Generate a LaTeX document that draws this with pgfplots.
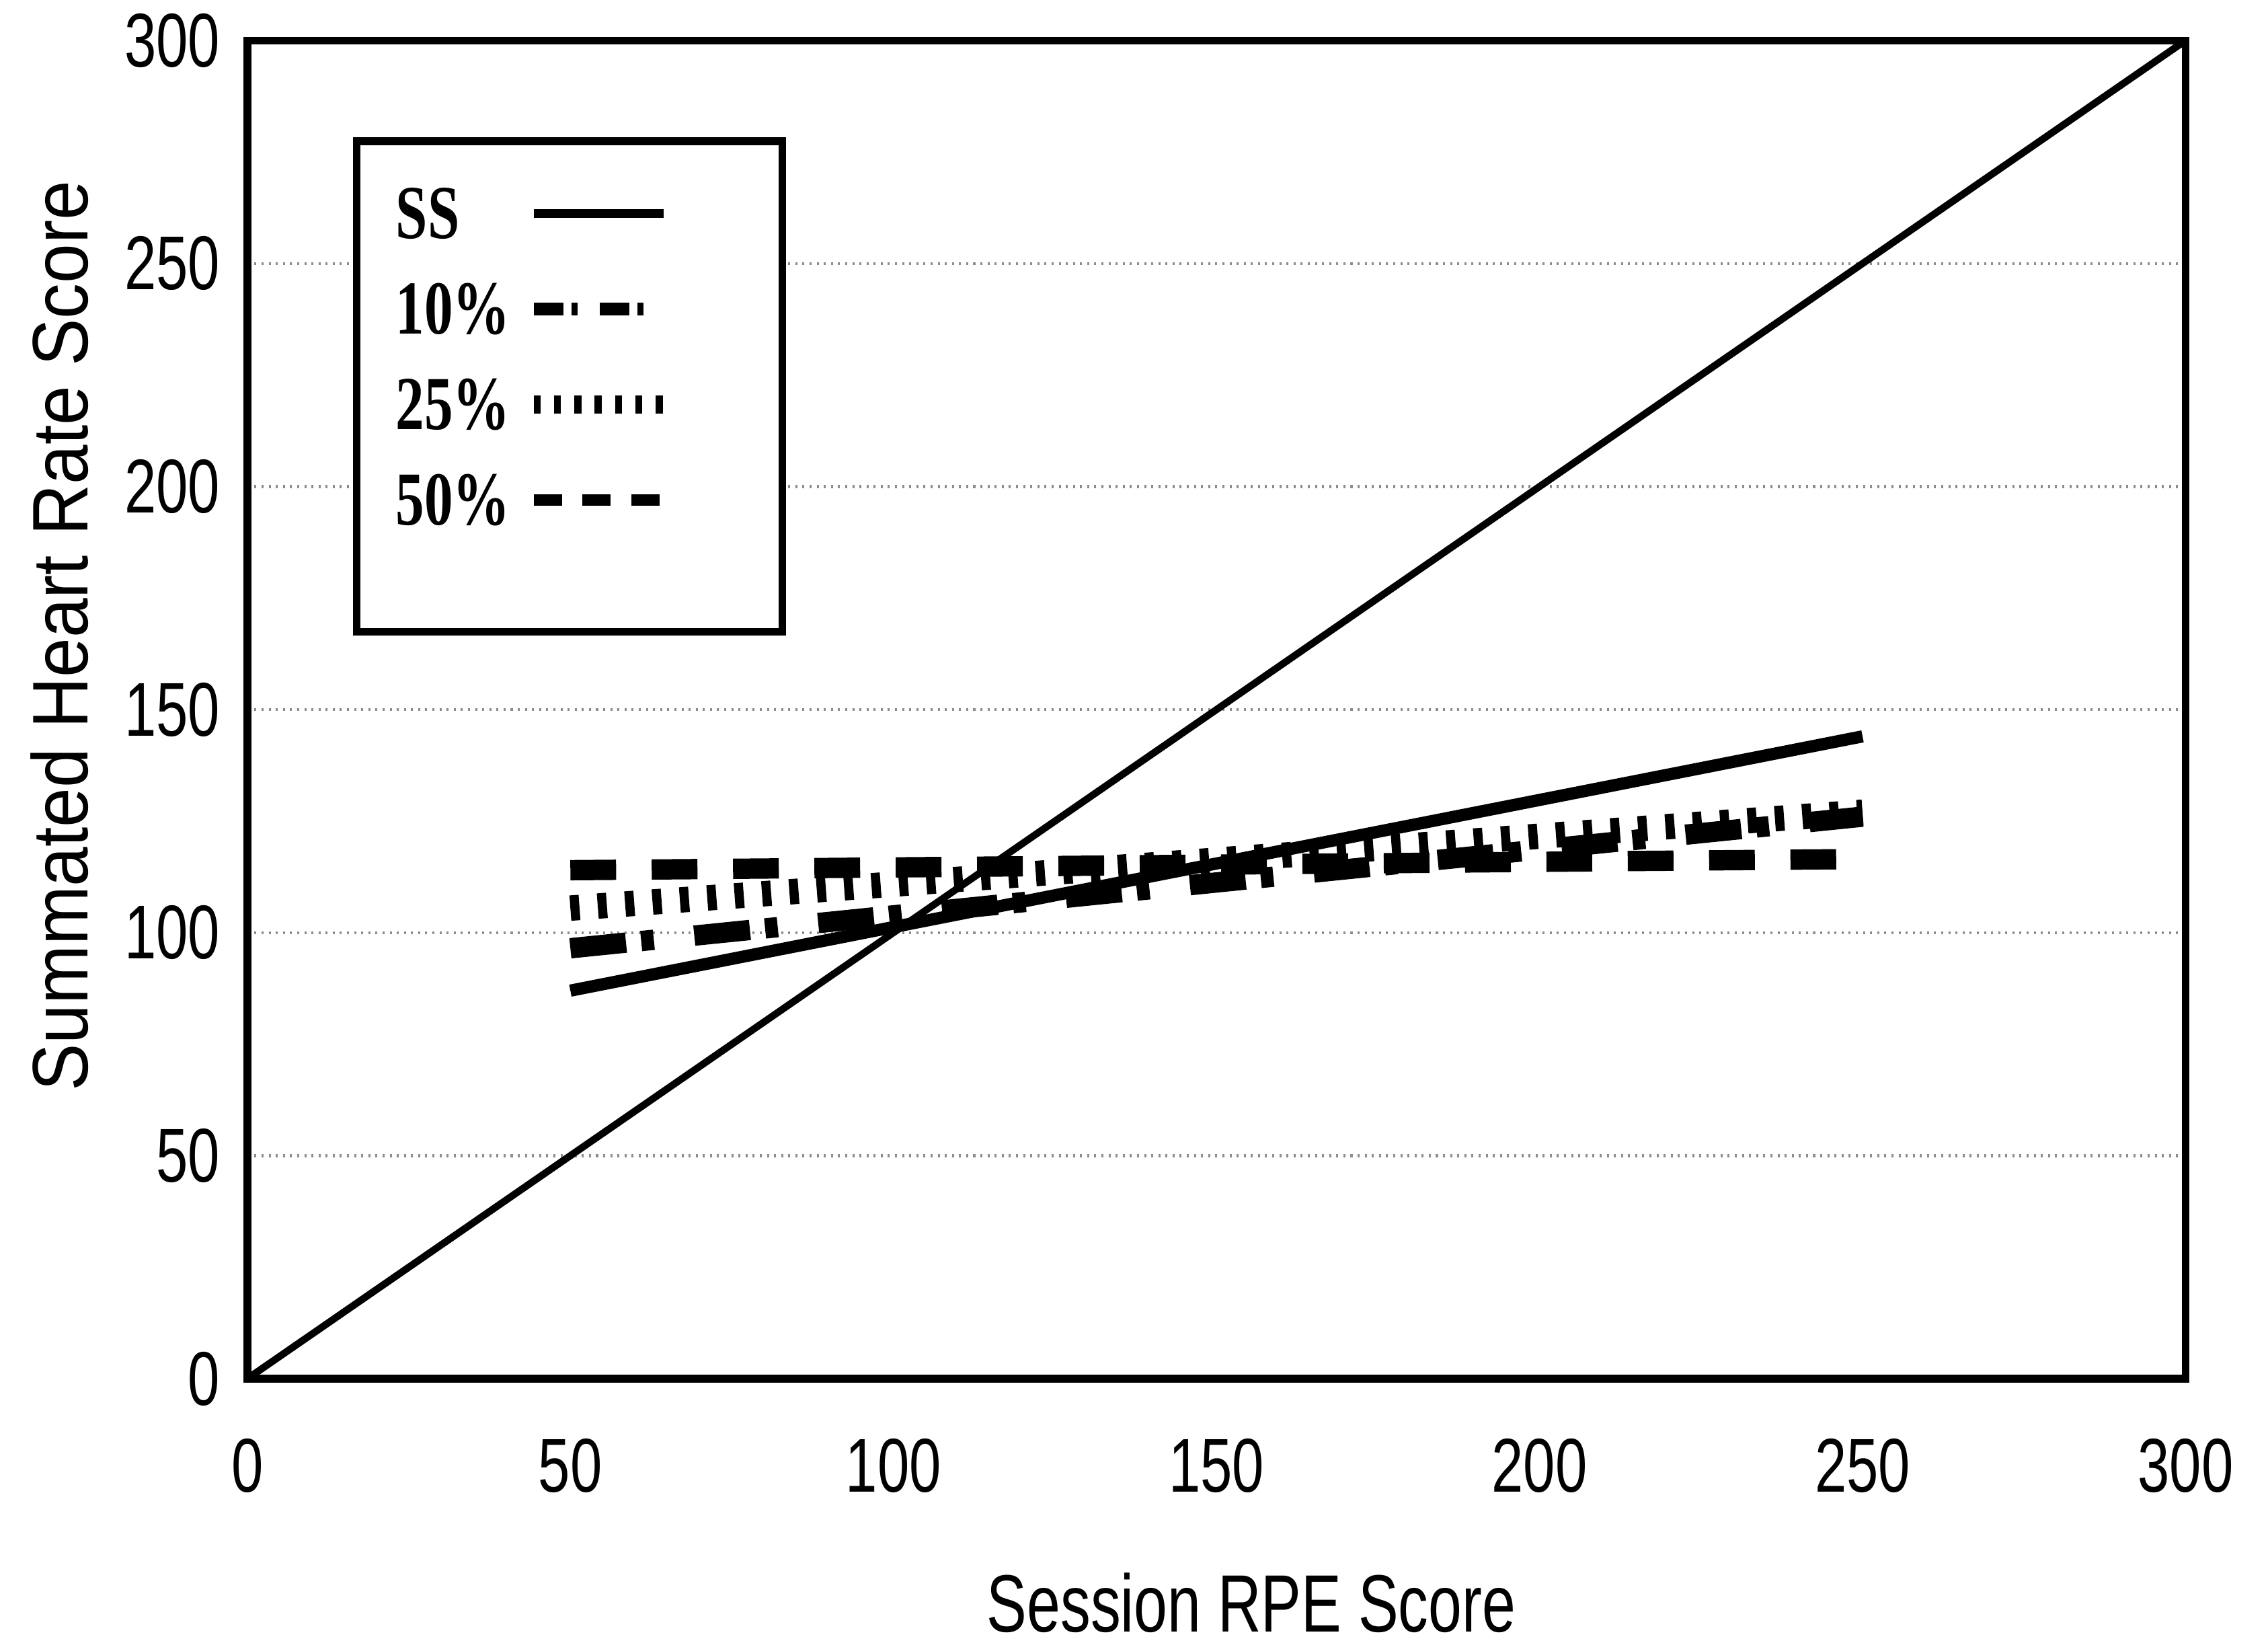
\documentclass[border=0pt]{standalone}
\usepackage{pgfplots}
\pgfplotsset{compat=1.18}
\usepackage{fontspec}
\setmainfont{Liberation Sans}
\newfontfamily\tickfont[FakeStretch=0.75]{Liberation Sans}
\newfontfamily\xlabfont[FakeStretch=0.74]{Liberation Sans}
\newfontfamily\ylabfont[FakeStretch=0.9]{Liberation Sans}
\newfontfamily\legfont[FakeStretch=0.75]{Liberation Serif}

\begin{document}
\begin{tikzpicture}
\useasboundingbox (-1.71cm,-1.84cm) rectangle (13.97cm,9.53cm);
\begin{axis}[
    at={(0,0)}, anchor=south west,
    scale only axis,
    width=13.4cm, height=9.25cm,
    xmin=0, xmax=300, ymin=0, ymax=300,
    xtick={0,50,...,300},
    ytick={0,50,...,300},
    major tick length=0pt,
    ymajorgrids,
    grid style={densely dotted, black!45, line width=0.6pt},
    axis line style={line width=1.5pt},
    /pgf/number format/assume math mode=true,
    ticklabel style={font=\tickfont\fontsize{15}{15}\selectfont},
    xticklabel style={yshift=-0.29cm},
    yticklabel style={xshift=-0.065cm},
    xlabel={Session RPE Score},
    ylabel={Summated Heart Rate Score},
    xlabel style={font=\xlabfont\fontsize{16}{16}\selectfont,
        at={(axis description cs:0.518,-0.1676)}, anchor=center},
    ylabel style={font=\ylabfont\fontsize{15.5}{15.5}\selectfont,
        at={(axis description cs:-0.097,0.555)}, anchor=center},
    legend plot pos=right,
    legend cell align=left,
    legend style={
        at={(axis description cs:0.0545,0.9276)}, anchor=north west,
        draw=black, line width=1.5pt,
        inner xsep=0.27cm, inner ysep=0.22cm,
        row sep=0.11cm, column sep=0.1cm,
        font=\legfont\bfseries\fontsize{15}{15}\selectfont,
        nodes={text height=0.35cm, text depth=0cm, inner xsep=0pt,
            inner ysep=0.10cm, anchor=base west},
    },
]

% line of identity
\addplot[black, line width=1.4pt, forget plot] coordinates {(0,0) (300,300)};

% SS
\addplot[black, line width=2.4pt,
    legend image code/.code={
        \draw[line width=1.6pt, solid] (0cm,0.17cm) -- (0.9cm,0.17cm);
        \path[draw=none] (0.9cm,0.17cm) -- (1.45cm,0.17cm);}]
    coordinates {(50,87) (250,144)};
\addlegendentry{SS}

% 10%
\addplot[black, line width=4pt, dash pattern=on 11pt off 3pt on 2.5pt off 8pt,
    legend image code/.code={
        \draw[line width=2.4pt, dash pattern=on 5.9pt off 1.5pt on 1.2pt off 4.4pt] (0cm,0.17cm) -- (0.9cm,0.17cm);
        \path[draw=none] (0.9cm,0.17cm) -- (1.45cm,0.17cm);}]
    coordinates {(50,96.5) (250,126)};
\addlegendentry{10\%}

% 25%
\addplot[black, line width=5pt, dash pattern=on 1.8pt off 3.6pt,
    legend image code/.code={
        \draw[line width=3.5pt, dash pattern=on 1.4pt off 2.6pt] (0cm,0.17cm) -- (0.9cm,0.17cm);
        \path[draw=none] (0.9cm,0.17cm) -- (1.45cm,0.17cm);}]
    coordinates {(50,105.5) (250,127)};
\addlegendentry{25\%}

% 50%
\addplot[black, line width=4pt, dash pattern=on 9pt off 7pt,
    legend image code/.code={
        \draw[line width=2.2pt, dash pattern=on 5.6pt off 4pt] (0cm,0.17cm) -- (0.9cm,0.17cm);
        \path[draw=none] (0.9cm,0.17cm) -- (1.45cm,0.17cm);}]
    coordinates {(50,114) (250,116.5)};
\addlegendentry[text depth=0.42cm]{50\%}

\end{axis}
\end{tikzpicture}
\end{document}
